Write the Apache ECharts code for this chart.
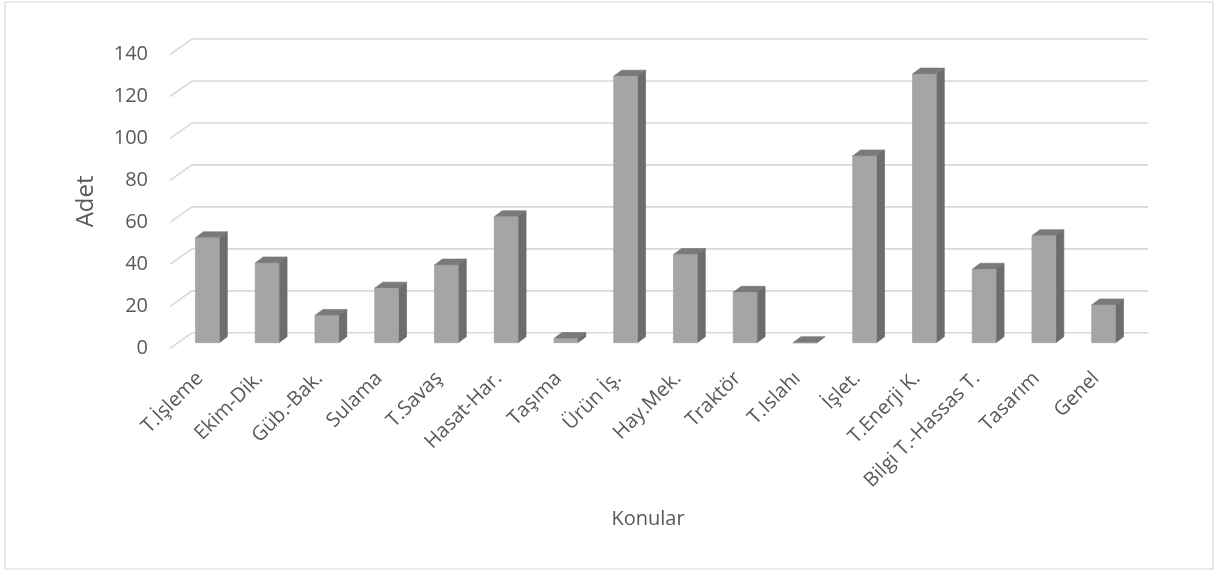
<!DOCTYPE html>
<html>
<head>
<meta charset="utf-8">
<script src="https://cdn.jsdelivr.net/npm/echarts@6/dist/echarts.min.js"></script>
<style>
  html, body { margin: 0; padding: 0; background: #ffffff; }
  #chart { width: 1215px; height: 572px; }
</style>
</head>
<body>
<div id="chart"></div>
<script>
// Konu başlıklarına göre adet dağılımı
const categories = [
  'T.İşleme', 'Ekim-Dik.', 'Güb.-Bak.', 'Sulama', 'T.Savaş', 'Hasat-Har.',
  'Taşıma', 'Ürün İş.', 'Hay.Mek.', 'Traktör', 'T.Islahı', 'İşlet.',
  'T.Enerji K.', 'Bilgi T.-Hassas T.', 'Tasarım', 'Genel'
];
const counts = [50, 38, 13, 26, 37, 60, 2, 127, 42, 24, 0, 89, 128, 35, 51, 18];
const yTicks = [0, 20, 40, 60, 80, 100, 120, 140];

const TEXT = '#595959';
const FONT = '"Open Sans", "DejaVu Sans", sans-serif';

// depth of the back wall relative to the front plane
const WALL_DX = 22, WALL_DY = 15.5;
// where each column sits inside the depth, and its own thickness
const BAR_SHIFT_X = 7.5, BAR_SHIFT_Y = 5.6;
const BAR_DX = 8, BAR_DY = 6;

function renderGrid(params, api) {
  const cs = params.coordSys;
  const y = api.coord([0, api.value(1)])[1];
  return {
    type: 'polyline',
    shape: { points: [
      [cs.x, y],
      [cs.x + WALL_DX, y - WALL_DY],
      [cs.x + cs.width + WALL_DX, y - WALL_DY]
    ] },
    style: { stroke: '#d9d9d9', lineWidth: 1.6, fill: null },
    silent: true
  };
}

function renderBar(params, api) {
  const i = api.value(0);
  const v = api.value(1);
  const top = api.coord([i, v]);
  const base = api.coord([i, 0]);
  const band = api.size([1, 0])[0];
  const w = band * 0.4;
  const x0 = top[0] + BAR_SHIFT_X - w / 2;
  const x1 = x0 + w;
  const yt = top[1] - BAR_SHIFT_Y;
  const yb = base[1] - BAR_SHIFT_Y;
  return {
    type: 'group',
    children: [
      { type: 'polygon',
        shape: { points: [[x1, yt], [x1 + BAR_DX, yt - BAR_DY], [x1 + BAR_DX, yb - BAR_DY], [x1, yb]] },
        style: { fill: '#6d6d6d', stroke: '#666666', lineWidth: 0.6 } },
      { type: 'polygon',
        shape: { points: [[x0, yt], [x0 + BAR_DX, yt - BAR_DY], [x1 + BAR_DX, yt - BAR_DY], [x1, yt]] },
        style: { fill: '#7a7a7a', stroke: '#727272', lineWidth: 0.6 } },
      { type: 'rect',
        shape: { x: x0, y: yt, width: w, height: yb - yt },
        style: { fill: '#a5a5a5', stroke: '#9a9a9a', lineWidth: 0.6 } }
    ]
  };
}

const chart = echarts.init(document.getElementById('chart'), null, { renderer: 'canvas' });
chart.setOption({
  animation: false,
  backgroundColor: '#ffffff',
  textStyle: { fontFamily: FONT },
  graphic: [{
    type: 'rect',
    shape: { x: 5, y: 2, width: 1208, height: 567 },
    style: { fill: null, stroke: '#d9d9d9', lineWidth: 1.2 },
    silent: true
  }],
  grid: { left: 170, right: 89, top: 54.5, bottom: 223.7, containLabel: false },
  xAxis: {
    type: 'category',
    data: categories,
    axisLine: { show: false },
    axisTick: { show: false },
    splitLine: { show: false },
    axisLabel: {
      interval: 0, rotate: 45, margin: 27,
      color: TEXT, fontSize: 20, fontFamily: FONT
    },
    name: 'Konular',
    nameLocation: 'middle',
    nameGap: 161,
    nameTextStyle: { color: TEXT, fontSize: 20, fontFamily: FONT }
  },
  yAxis: {
    type: 'value',
    min: 0, max: 140, interval: 20,
    axisLine: { show: false },
    axisTick: { show: false },
    splitLine: { show: false },
    axisLabel: { margin: 22, color: TEXT, fontSize: 20, fontFamily: FONT },
    name: 'Adet',
    nameLocation: 'middle',
    nameRotate: 90,
    nameGap: 72,
    nameTextStyle: { color: TEXT, fontSize: 24, fontFamily: FONT }
  },
  series: [
    {
      type: 'custom',
      name: 'grid',
      renderItem: renderGrid,
      data: yTicks.map(t => [0, t]),
      z: 1,
      silent: true
    },
    {
      type: 'custom',
      name: 'Adet',
      renderItem: renderBar,
      data: counts.map((v, i) => [i, v]),
      z: 2
    }
  ]
});
</script>
</body>
</html>
